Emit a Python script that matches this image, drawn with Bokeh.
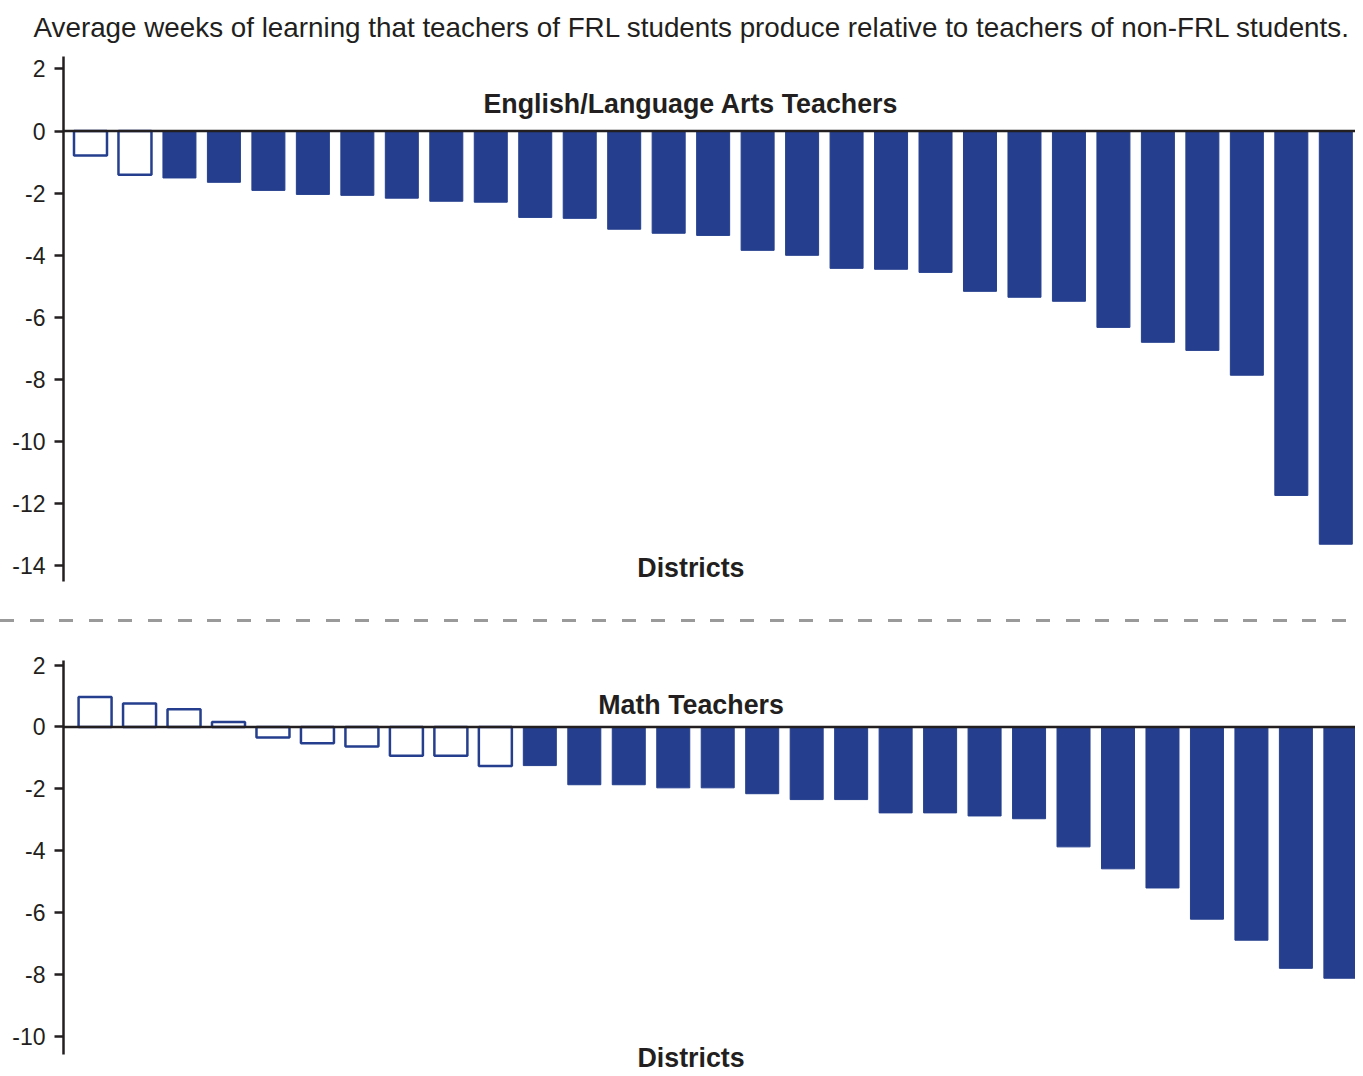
from bokeh.plotting import figure
from bokeh.models import ColumnDataSource, Span, Label, FixedTicker, Range1d, Div
from bokeh.layouts import column
from bokeh.embed import file_html
from bokeh.resources import INLINE

# ---------------- data ----------------
title_text = "Average weeks of learning that teachers of FRL students produce relative to teachers of non-FRL students."
ela_title = "English/Language Arts Teachers"
math_title = "Math Teachers"
x_label = "Districts"

ela_values = [-0.79, -1.41, -1.51, -1.65, -1.91, -2.04, -2.07, -2.16, -2.26, -2.29,
              -2.78, -2.81, -3.16, -3.29, -3.36, -3.84, -4.00, -4.42, -4.45, -4.55,
              -5.16, -5.35, -5.48, -6.32, -6.80, -7.06, -7.86, -11.73, -13.30]
ela_significant = [False, False] + [True] * 27

math_values = [0.97, 0.76, 0.57, 0.16, -0.34, -0.53, -0.63, -0.93, -0.93, -1.26,
               -1.25, -1.87, -1.87, -1.97, -1.97, -2.16, -2.35, -2.35, -2.78, -2.78,
               -2.88, -2.97, -3.88, -4.59, -5.21, -6.22, -6.90, -7.81, -8.13]
math_significant = [False] * 10 + [True] * 19

ela_ticks = [2, 0, -2, -4, -6, -8, -10, -12, -14]
math_ticks = [2, 0, -2, -4, -6, -8, -10]

# ---------------- style ----------------
BLUE = "#253F8E"
INK = "#231F20"
FONT = "Liberation Sans"


def make_source(values, significant):
    return ColumnDataSource(dict(
        x=list(range(len(values))),
        top=values,
        fill=[BLUE if s else "white" for s in significant],
        lw=[1 if s else 2.5 for s in significant],
    ))


def panel(values, significant, ticks, y_start, y_end, axis_bounds, x_start,
          frame_h, border_top, border_bottom):
    p = figure(frame_width=1292, frame_height=frame_h,
               min_border_left=63, min_border_right=0,
               min_border_top=border_top, min_border_bottom=border_bottom,
               x_range=Range1d(x_start, x_start + 29.05),
               y_range=Range1d(y_start, y_end),
               x_axis_location=None, toolbar_location=None,
               output_backend="svg", background_fill_color="white",
               border_fill_color="white")
    p.outline_line_color = None
    p.grid.visible = False
    src = make_source(values, significant)
    p.vbar(x="x", top="top", bottom=0, width=0.742, source=src,
           fill_color="fill", line_color=BLUE, line_width="lw")
    p.add_layout(Span(location=0, dimension="width", line_color=INK,
                      line_width=2.5))
    ax = p.yaxis[0]
    ax.ticker = FixedTicker(ticks=ticks)
    ax.major_label_overrides = {t: str(t) for t in ticks}
    ax.bounds = axis_bounds
    ax.axis_line_color = INK
    ax.axis_line_width = 2.5
    ax.major_tick_line_color = INK
    ax.major_tick_line_width = 2.5
    ax.major_tick_out = 9
    ax.major_tick_in = 0
    ax.minor_tick_line_color = None
    ax.major_label_standoff = 9
    ax.major_label_text_font = FONT
    ax.major_label_text_font_size = "23px"
    ax.major_label_text_color = INK
    return p


def bold_label(x, y, text):
    return Label(x=x, y=y, text=text, text_align="center",
                 text_baseline="middle", text_font=FONT,
                 text_font_size="26.8px", text_font_style="bold",
                 text_color=INK)


# ---------------- ELA panel ----------------
p1 = panel(ela_values, ela_significant, ela_ticks, -14.5, 2.4, (-14.5, 2.4),
           -0.607, 525, 56, 19)
p1.title.text = title_text
p1.title.align = "left"
p1.title.vertical_align = "top"
p1.title.offset = -30
p1.title.text_font = FONT
p1.title.text_font_size = "27.8px"
p1.title.text_font_style = "normal"
p1.title.text_color = INK
p1.title.standoff = 23

p1.add_layout(bold_label(13.5, 0.86, ela_title))
p1.add_layout(bold_label(13.5, -14.08, x_label))

# ---------------- separator ----------------
sep = Div(width=1355, height=40, margin=0, text=(
    '<div style="margin:19px 0 0 0;height:2.5px;width:1355px;'
    'background-image:repeating-linear-gradient(to right,#9A9A9A 0px,#9A9A9A 14px,'
    'transparent 14px,transparent 29.6px);"></div>'))

# ---------------- Math panel ----------------
p2 = panel(math_values, math_significant, math_ticks, -11.18, 2.15, (-10.6, 2.15),
           -0.71, 412, 20, 0)
p2.add_layout(bold_label(13.4, 0.72, math_title))
p2.add_layout(bold_label(13.4, -10.72, x_label))

layout = column(p1, sep, p2)
open("out.html", "w").write(file_html(layout, INLINE))
